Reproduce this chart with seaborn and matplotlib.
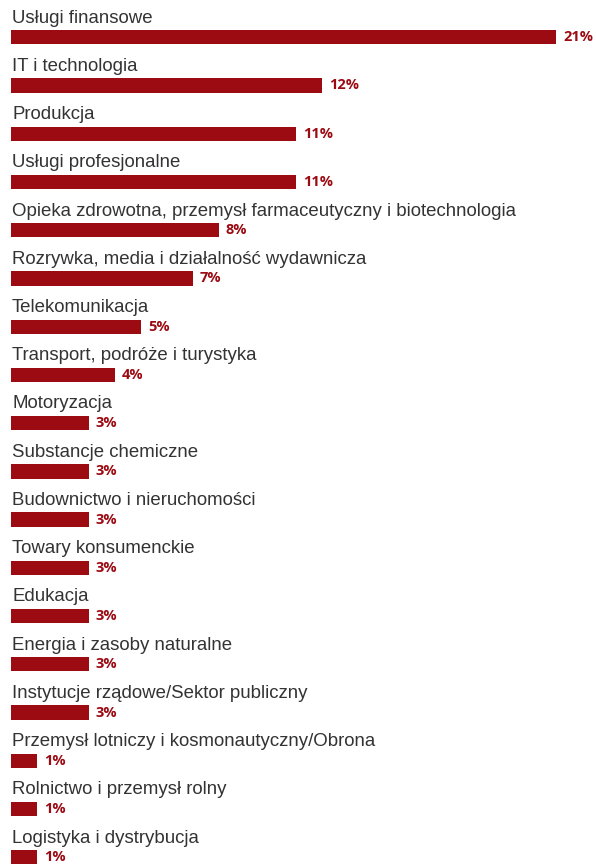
import matplotlib
matplotlib.use("Agg")
import matplotlib.pyplot as plt
import seaborn as sns
import pandas as pd

# Sector shares (percent)
sectors = [
    "Usługi finansowe",
    "IT i technologia",
    "Produkcja",
    "Usługi profesjonalne",
    "Opieka zdrowotna, przemysł farmaceutyczny i biotechnologia",
    "Rozrywka, media i działalność wydawnicza",
    "Telekomunikacja",
    "Transport, podróże i turystyka",
    "Motoryzacja",
    "Substancje chemiczne",
    "Budownictwo i nieruchomości",
    "Towary konsumenckie",
    "Edukacja",
    "Energia i zasoby naturalne",
    "Instytucje rządowe/Sektor publiczny",
    "Przemysł lotniczy i kosmonautyczny/Obrona",
    "Rolnictwo i przemysł rolny",
    "Logistyka i dystrybucja",
]
shares = [21, 12, 11, 11, 8, 7, 5, 4, 3, 3, 3, 3, 3, 3, 3, 1, 1, 1]

BAR_COLOR = "#9C0A12"
TEXT_COLOR = "#333333"

df = pd.DataFrame({"sector": sectors, "share": shares})

sns.set_theme(style="white")
plt.rcParams["font.family"] = ["Liberation Sans", "DejaVu Sans"]

fig = plt.figure(figsize=(5.96, 8.67), dpi=100)
ax = fig.add_axes([0, 0, 1, 1])

sns.barplot(data=df, x="share", y="sector", orient="h", color=BAR_COLOR,
            saturation=1, width=0.296, linewidth=0, ax=ax)

ax.set_xlim(-0.424, 22.54)
ax.set_ylim(17.201, -0.771)
ax.axis("off")

half = 0.296 / 2
for i, (name, val) in enumerate(zip(sectors, shares)):
    # category name above the bar
    ax.annotate(name, xy=(0, i - half), xytext=(1, 7.5),
                textcoords="offset pixels", ha="left", va="baseline",
                fontsize=13.4, color=TEXT_COLOR)
    # value to the right of the bar
    ax.annotate(f"{val}%", xy=(val, i), xytext=(7, 0),
                textcoords="offset pixels", ha="left", va="center",
                fontsize=10.5, fontweight="bold", color=BAR_COLOR,
                family=["Open Sans", "DejaVu Sans"])

fig.savefig("out.png", dpi=100)
